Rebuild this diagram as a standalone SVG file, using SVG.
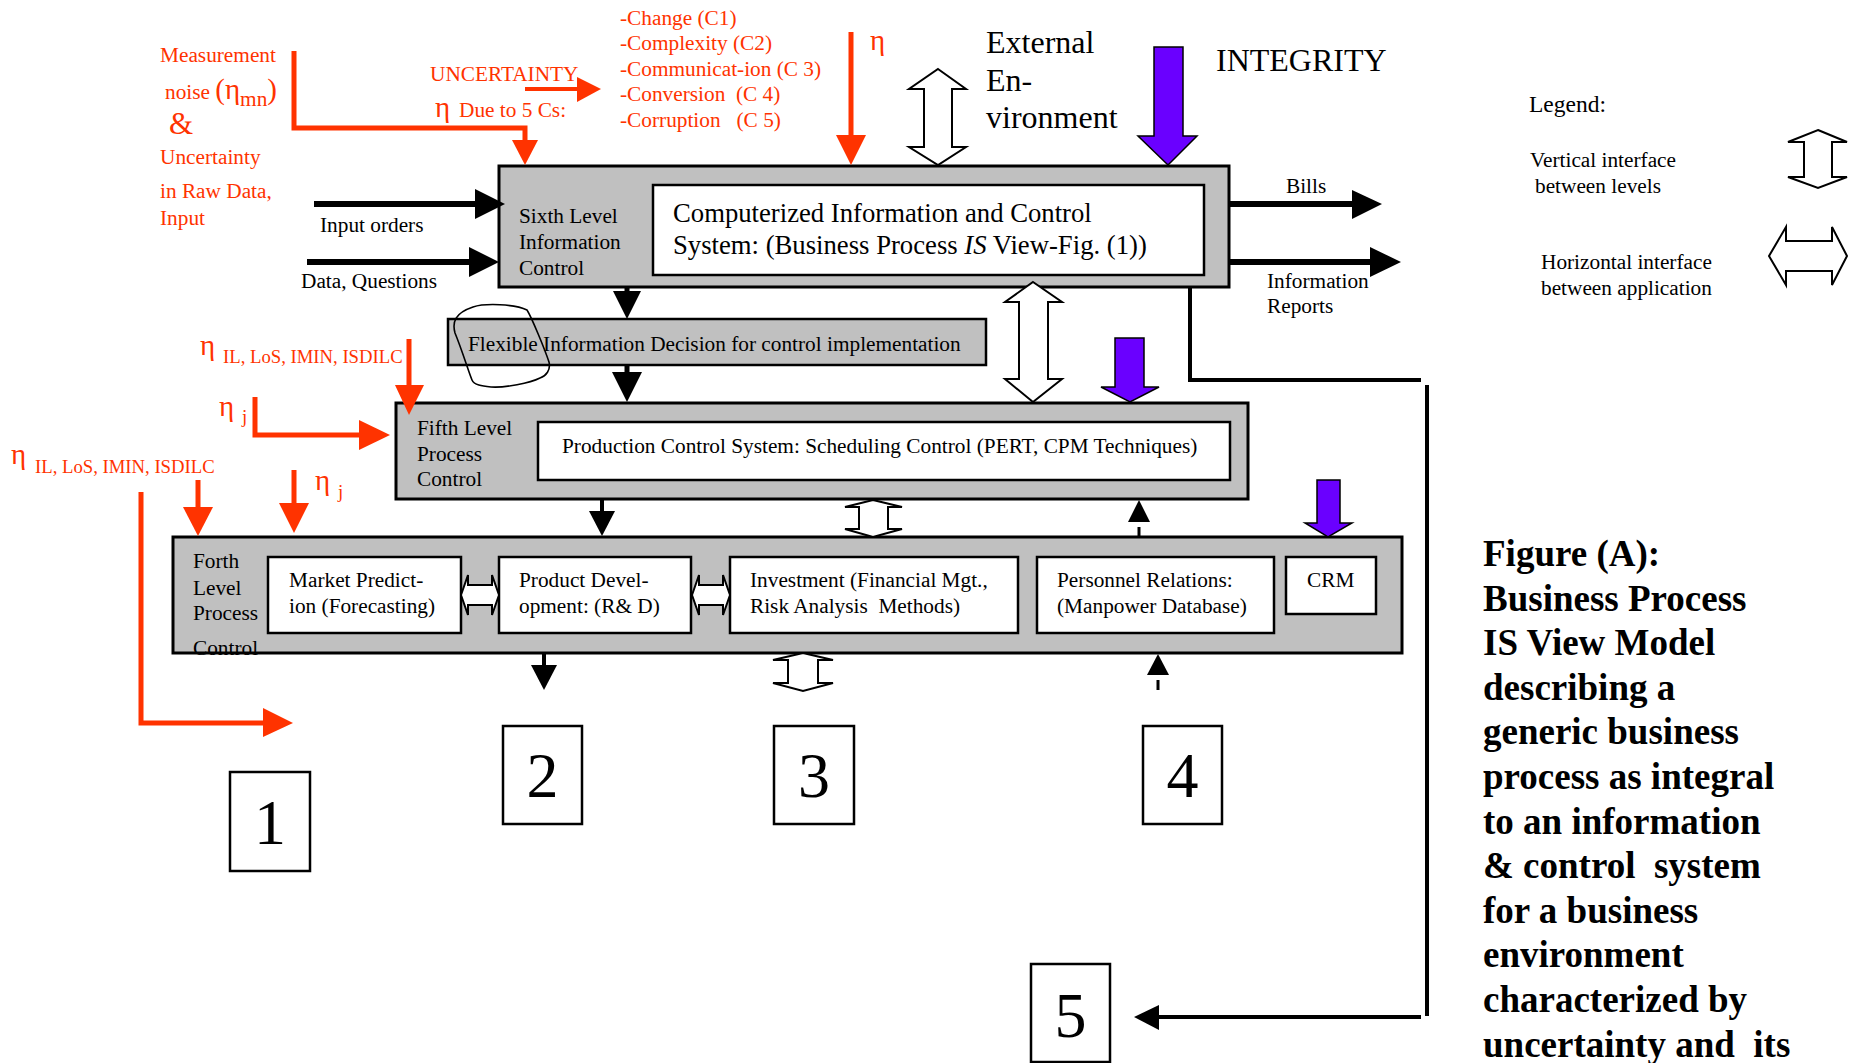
<svg xmlns="http://www.w3.org/2000/svg" width="1851" height="1063" viewBox="0 0 1851 1063">
  <style>
    text { font-family: "Liberation Serif", "Times New Roman", serif; font-size: 21.3px; fill: #000; white-space: pre; }
    .red { fill: #ff3300; }
    .big { font-size: 32px; }
    .mid { font-size: 26.7px; }
    .eta { font-size: 29px; }
    .amp { font-size: 31px; }
    .legend { font-size: 23.5px; }
    .small { font-size: 18.7px; }
    .num { font-size: 64px; text-anchor: middle; }
    .cap { font-size: 37px; font-weight: bold; }
    .level { fill: #c0c0c0; stroke: #000; stroke-width: 3; }
    .thin { stroke-width: 2.5; }
    .inner { fill: #fff; stroke: #000; stroke-width: 2.5; }
    .numbox { fill: #fff; stroke: #000; stroke-width: 2.5; }
    .hollow { fill: #fff; stroke: #000; stroke-width: 2; stroke-linejoin: miter; }
    .blue { fill: #6a00ff; stroke: #000; stroke-width: 1.5; }
    .rline { fill: none; stroke: #ff3300; stroke-width: 5; }
    .rthin { stroke-width: 4; }
    .rhead { fill: #ff3300; }
    .bline { fill: none; stroke: #000; stroke-width: 6; }
    .b5 { stroke-width: 5; }
    .b4 { stroke-width: 4; }
    .b3 { stroke-width: 3; }
    .tline { fill: none; stroke: #000; stroke-width: 4; }
    .bhead { fill: #000; }
  </style>

  <rect width="1851" height="1063" fill="#fff"/>

  <!-- Sixth level -->
  <g id="level6">
    <rect class="level" x="499" y="166" width="730" height="121"/>
    <text x="519" y="223">Sixth Level</text>
    <text x="519" y="249">Information</text>
    <text x="519" y="275">Control</text>
  </g>
  <g id="cics">
    <rect class="inner" x="653" y="185" width="551" height="90"/>
    <text class="mid" x="673" y="222">Computerized Information and Control</text>
    <text class="mid" x="673" y="254">System: (Business Process <tspan font-style="italic">IS</tspan> View-Fig. (1))</text>
  </g>

  <!-- Decision bar -->
  <g id="flexible">
    <rect class="level thin" x="448" y="319" width="538" height="46"/>
    <text x="468" y="351">Flexible Information Decision for control implementation</text>
    <path d="M473,307 C485,303 515,304 527,310 C532,318 545,350 549,362 C551,370 546,376 540,378 C530,383 505,388 491,387 C482,386 474,385 472,380 C468,370 462,350 455,333 C452,322 455,313 473,307 Z" fill="none" stroke="#000" stroke-width="1.6"/>
  </g>

  <!-- Fifth level -->
  <g id="level5">
    <rect class="level" x="396" y="403" width="852" height="96"/>
    <text x="417" y="435">Fifth Level</text>
    <text x="417" y="461">Process</text>
    <text x="417" y="486">Control</text>
  </g>
  <g id="production">
    <rect class="inner" x="538" y="422" width="692" height="58"/>
    <text x="562" y="453">Production Control System: Scheduling Control (PERT, CPM Techniques)</text>
  </g>

  <!-- Fourth level -->
  <g id="level4">
    <rect class="level" x="173" y="537" width="1229" height="116"/>
    <text x="193" y="568">Forth</text>
    <text x="193" y="595">Level</text>
    <text x="193" y="620">Process</text>
    <text x="193" y="655">Control</text>
  </g>
  <g id="market">
    <rect class="inner" x="268" y="557" width="193" height="76"/>
    <text x="289" y="587">Market Predict-</text>
    <text x="289" y="613">ion (Forecasting)</text>
  </g>
  <g id="product">
    <rect class="inner" x="499" y="557" width="192" height="76"/>
    <text x="519" y="587">Product Devel-</text>
    <text x="519" y="613">opment: (R&amp; D)</text>
  </g>
  <g id="investment">
    <rect class="inner" x="730" y="557" width="288" height="76"/>
    <text x="750" y="587">Investment (Financial Mgt.,</text>
    <text x="750" y="613">Risk Analysis  Methods)</text>
  </g>
  <g id="personnel">
    <rect class="inner" x="1037" y="557" width="237" height="76"/>
    <text x="1057" y="587">Personnel Relations:</text>
    <text x="1057" y="613">(Manpower Database)</text>
  </g>
  <g id="crm">
    <rect class="inner" x="1286" y="557" width="90" height="57"/>
    <text x="1307" y="587">CRM</text>
  </g>

  <!-- Numbered outputs -->
  <g id="out1"><rect class="numbox" x="230" y="772" width="80" height="99"/><text class="num" x="270" y="844">1</text></g>
  <g id="out2"><rect class="numbox" x="503" y="726" width="79" height="98"/><text class="num" x="542.5" y="797">2</text></g>
  <g id="out3"><rect class="numbox" x="774" y="726" width="80" height="98"/><text class="num" x="814" y="797">3</text></g>
  <g id="out4"><rect class="numbox" x="1143" y="726" width="79" height="98"/><text class="num" x="1182.5" y="797">4</text></g>
  <g id="out5"><rect class="numbox" x="1031" y="964" width="79" height="98"/><text class="num" x="1070.5" y="1037">5</text></g>

  <!-- Free labels -->
  <g id="labels">
    <text class="red" x="160" y="62">Measurement</text>
    <text class="red" x="165" y="99">noise <tspan class="eta">(η</tspan><tspan dy="7">mn</tspan><tspan class="eta" dy="-7">)</tspan></text>
    <text class="red amp" x="169" y="134">&amp;</text>
    <text class="red" x="160" y="164">Uncertainty</text>
    <text class="red" x="160" y="198">in Raw Data,</text>
    <text class="red" x="160" y="225">Input</text>

    <text class="red" x="430" y="81">UNCERTAINTY</text>
    <text class="red" y="117"><tspan class="eta" x="435">η</tspan><tspan x="459">Due to 5 Cs:</tspan></text>

    <text class="red" x="620" y="25">-Change (C1)</text>
    <text class="red" x="620" y="50">-Complexity (C2)</text>
    <text class="red" x="620" y="76">-Communicat-ion (C 3)</text>
    <text class="red" x="620" y="101">-Conversion  (C 4)</text>
    <text class="red" x="620" y="127">-Corruption   (C 5)</text>
    <text class="red eta" x="870" y="50">η</text>

    <text class="big" x="986" y="53">External</text>
    <text class="big" x="986" y="91">En-</text>
    <text class="big" x="986" y="128">vironment</text>
    <text class="big" x="1216" y="71">INTEGRITY</text>

    <text x="320" y="232">Input orders</text>
    <text x="301" y="288">Data, Questions</text>
    <text x="1286" y="193">Bills</text>
    <text x="1267" y="288">Information</text>
    <text x="1267" y="313">Reports</text>

    <text class="red eta" x="200" y="355">η</text>
    <text class="red small" x="223" y="363">IL, LoS, IMIN, ISDILC</text>
    <text class="red eta" x="219" y="416">η</text>
    <text class="red small" x="242" y="423">j</text>
    <text class="red eta" x="11" y="464">η</text>
    <text class="red small" x="35" y="473">IL, LoS, IMIN, ISDILC</text>
    <text class="red eta" x="315" y="490">η</text>
    <text class="red small" x="338" y="498">j</text>

    <text class="legend" x="1529" y="112">Legend:</text>
    <text x="1530" y="167">Vertical interface</text>
    <text x="1535" y="193">between levels</text>
    <text x="1541" y="269">Horizontal interface</text>
    <text x="1541" y="295">between application</text>
  </g>

  <!-- Caption -->
  <g id="caption">
    <text class="cap" x="1483" y="566">Figure (A):</text>
    <text class="cap" x="1483" y="611">Business Process</text>
    <text class="cap" x="1483" y="655">IS View Model</text>
    <text class="cap" x="1483" y="700">describing a</text>
    <text class="cap" x="1483" y="744">generic business</text>
    <text class="cap" x="1483" y="789">process as integral</text>
    <text class="cap" x="1483" y="834">to an information</text>
    <text class="cap" x="1483" y="878">&amp; control  system</text>
    <text class="cap" x="1483" y="923">for a business</text>
    <text class="cap" x="1483" y="967">environment</text>
    <text class="cap" x="1483" y="1012">characterized by</text>
    <text class="cap" x="1483" y="1057">uncertainty and  its</text>
  </g>

  <!-- Connectors -->
  <g id="connectors">
    <!-- red uncertainty inputs -->
    <path class="rline" d="M294,51 V128 H525 V141"/>
    <polygon class="rhead" points="512,140 538,140 525,165"/>
    <path class="rline rthin" d="M525,89 H578"/>
    <polygon class="rhead" points="577,77 601,89 577,102"/>
    <path class="rline" d="M851,32 V136"/>
    <polygon class="rhead" points="836,135 866,135 851,165"/>
    <path class="rline" d="M409,339 V386"/>
    <polygon class="rhead" points="395,385 424,385 409,415"/>
    <path class="rline" d="M255,397 V435 H360"/>
    <polygon class="rhead" points="359,420 390,435 359,450"/>
    <path class="rline" d="M198,480 V508"/>
    <polygon class="rhead" points="183,507 213,507 198,536"/>
    <path class="rline" d="M294,470 V504"/>
    <polygon class="rhead" points="279,503 309,503 294,533"/>
    <path class="rline" d="M141,492 V723 H264"/>
    <polygon class="rhead" points="263,708 293,723 263,737"/>

    <!-- black flows -->
    <path class="bline" d="M314,204 H476"/>
    <polygon class="bhead" points="475,189 505,204 475,219"/>
    <path class="bline" d="M307,262 H470"/>
    <polygon class="bhead" points="469,247 499,262 469,277"/>
    <path class="bline" d="M1229,204 H1353"/>
    <polygon class="bhead" points="1352,190 1382,204 1352,219"/>
    <path class="bline" d="M1229,262 H1371"/>
    <polygon class="bhead" points="1370,247 1401,262 1370,277"/>

    <path class="bline b5" d="M627,287 V292"/>
    <polygon class="bhead" points="613,291 641,291 627,319"/>
    <path class="bline b5" d="M627,365 V373"/>
    <polygon class="bhead" points="612,372 642,372 627,402"/>
    <path class="bline b4" d="M602,499 V512"/>
    <polygon class="bhead" points="589,511 615,511 602,536"/>
    <path class="bline b4" d="M544,653 V666"/>
    <polygon class="bhead" points="531,665 557,665 544,690"/>
    <path class="bline b3" d="M1139,527 V537"/>
    <polygon class="bhead" points="1128,522 1150,522 1139,500"/>
    <path class="bline b3" d="M1158,680 V690"/>
    <polygon class="bhead" points="1147,675 1169,675 1158,654"/>

    <!-- feedback to 5 -->
    <path class="tline" d="M1190,287 V380 H1421"/>
    <path class="tline" d="M1427,385 V1016"/>
    <path class="tline" d="M1421,1017 H1158"/>
    <polygon class="bhead" points="1159,1005 1134,1017 1159,1030"/>

    <!-- integrity inputs -->
    <polygon class="blue" points="1154,47 1183,47 1183,136 1197,136 1168,165 1138,136 1154,136"/>
    <polygon class="blue" points="1115,338 1144,338 1144,387 1159,387 1130,402 1101,387 1115,387"/>
    <polygon class="blue" points="1317,480 1340,480 1340,523 1352,523 1328,537 1305,523 1317,523"/>

    <!-- vertical interfaces -->
    <polygon class="hollow" points="938,69 966,89 952,89 952,147 966,147 938,165 909,147 924,147 924,89 909,89"/>
    <polygon class="hollow" points="1033,282 1062,302 1048,302 1048,379 1062,379 1033,402 1005,379 1019,379 1019,302 1005,302"/>
    <polygon class="hollow" points="873,500 902,507 888,507 888,529 902,529 873,537 845,529 859,529 859,507 845,507"/>
    <polygon class="hollow" points="803,653 833,660 818,660 818,683 833,683 803,691 773,683 788,683 788,660 773,660"/>

    <!-- horizontal interfaces -->
    <polygon class="hollow" points="461,595 468,575 468,585 492,585 492,575 499,595 492,615 492,605 468,605 468,615"/>
    <polygon class="hollow" points="692,595 699,575 699,585 723,585 723,575 730,595 723,615 723,605 699,605 699,615"/>

    <!-- legend symbols -->
    <polygon class="hollow" points="1818,130 1847,142 1832,142 1832,177 1847,177 1818,188 1788,177 1804,177 1804,142 1788,142"/>
    <polygon class="hollow" points="1769,256 1786,227 1786,241 1832,241 1832,227 1847,256 1832,285 1832,271 1786,271 1786,285"/>
  </g>
</svg>
